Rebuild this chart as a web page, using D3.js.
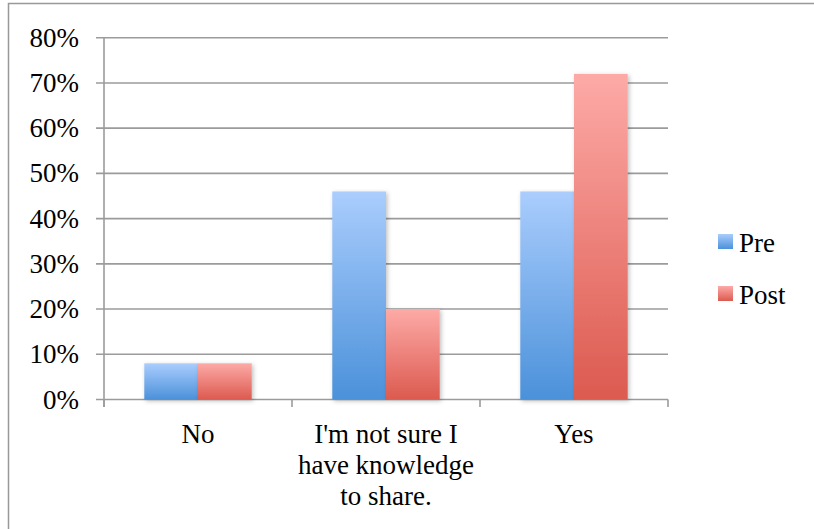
<!DOCTYPE html>
<html><head><meta charset="utf-8">
<script src="https://cdn.jsdelivr.net/npm/d3@7"></script>
<style>html,body{margin:0;padding:0;background:#fff;}svg{display:block;}</style>
</head><body>
<svg id="c" width="814" height="529"></svg>
<script>
const categories = [["No"], ["I'm not sure I", "have knowledge", "to share."], ["Yes"]];
const seriesNames = ["Pre", "Post"];
const preValues = [0.08, 0.46, 0.46];
const postValues = [0.08, 0.20, 0.72];
const yTicks = [0, 0.1, 0.2, 0.3, 0.4, 0.5, 0.6, 0.7, 0.8];

const svg = d3.select("#c");
const font = "'Liberation Serif', 'Times New Roman', serif";
const fs = 27;

// frame
svg.append("rect").attr("x", 8.5).attr("y", 3.5).attr("width", 900).attr("height", 700)
  .attr("fill", "#fff").attr("stroke", "#999").attr("stroke-width", 1.5);

const defs = svg.append("defs");
const grads = [["gPre", "#aacdfd", "#4b91da"], ["gPost", "#fdaaa7", "#dc5a4f"]];
grads.forEach(([id, a, b]) => {
  const g = defs.append("linearGradient").attr("id", id).attr("x1", 0).attr("y1", 0).attr("x2", 0).attr("y2", 1);
  g.append("stop").attr("offset", "0%").attr("stop-color", a);
  g.append("stop").attr("offset", "100%").attr("stop-color", b);
});
const f = defs.append("filter").attr("id", "sh").attr("x", "-20%").attr("y", "-20%").attr("width", "150%").attr("height", "150%");
f.append("feDropShadow").attr("dx", 1.5).attr("dy", 1.5).attr("stdDeviation", 2).attr("flood-color", "#000").attr("flood-opacity", 0.25);

const x0 = d3.scaleBand().domain(d3.range(categories.length)).range([104, 668]).paddingInner(0).paddingOuter(0);
const bw = x0.bandwidth() / 3.5;
const y = d3.scaleLinear().domain([0, 0.8]).range([399.5, 37.7]);

// gridlines
svg.append("g").selectAll("line").data(yTicks).join("line")
  .attr("x1", 96).attr("x2", 668).attr("y1", d => y(d)).attr("y2", d => y(d))
  .attr("stroke", "#9b9b9b").attr("stroke-width", 1.6);

// y axis line
svg.append("line").attr("x1", 104).attr("x2", 104).attr("y1", y(0.8)).attr("y2", 407)
  .attr("stroke", "#9b9b9b").attr("stroke-width", 1.6);
// x ticks
svg.append("g").selectAll("line").data(d3.range(categories.length + 1)).join("line")
  .attr("x1", i => i < categories.length ? x0(i) : x0(categories.length - 1) + x0.bandwidth())
  .attr("x2", i => i < categories.length ? x0(i) : x0(categories.length - 1) + x0.bandwidth())
  .attr("y1", y(0)).attr("y2", 407).attr("stroke", "#9b9b9b").attr("stroke-width", 1.6);

// y labels
svg.append("g").selectAll("text").data(yTicks).join("text")
  .attr("x", 79).attr("y", d => y(d) + 9).attr("text-anchor", "end")
  .attr("font-family", font).attr("font-size", fs).attr("fill", "#000")
  .text(d => d3.format(".0%")(d));

// bars
const series = [preValues, postValues];
series.forEach((vals, si) => {
  svg.append("g").attr("filter", "url(#sh)").selectAll("rect").data(vals).join("rect")
    .attr("x", (d, i) => x0(i) + x0.bandwidth() / 2 - bw + si * bw)
    .attr("width", bw)
    .attr("y", d => y(d)).attr("height", d => y(0) - y(d))
    .attr("fill", `url(#${grads[si][0]})`);
});

// x labels
categories.forEach((lines, i) => {
  const t = svg.append("text").attr("text-anchor", "middle")
    .attr("font-family", font).attr("font-size", fs).attr("fill", "#000");
  lines.forEach((ln, j) => {
    t.append("tspan").attr("x", x0(i) + x0.bandwidth() / 2).attr("y", 443 + j * 31).text(ln);
  });
});

// legend
seriesNames.forEach((name, i) => {
  const ly = 234 + i * 52;
  svg.append("rect").attr("x", 718).attr("y", ly).attr("width", 15).attr("height", 15)
    .attr("fill", `url(#${grads[i][0]})`);
  svg.append("text").attr("x", 739).attr("y", ly + 17.5)
    .attr("font-family", font).attr("font-size", fs).attr("fill", "#000").text(name);
});
</script>
</body></html>
